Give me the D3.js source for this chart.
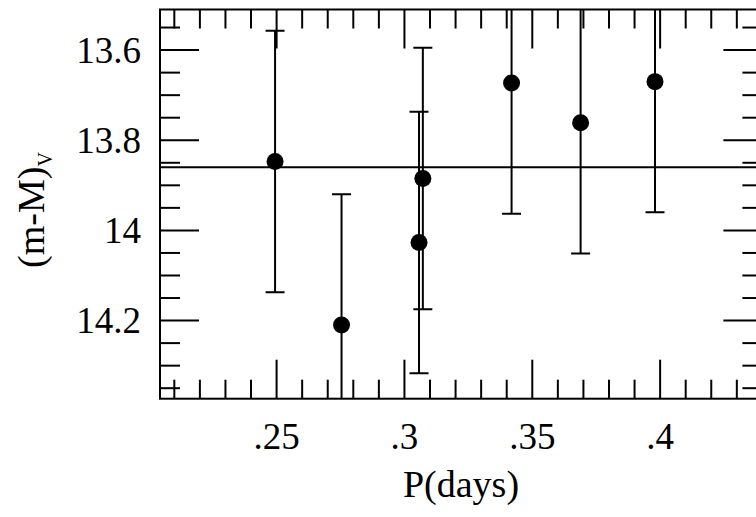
<!DOCTYPE html>
<html>
<head>
<meta charset="utf-8">
<script src="https://cdn.jsdelivr.net/npm/d3@7"></script>
<style>
  html, body { margin: 0; padding: 0; background: #fff; }
  svg { display: block; }
  text { font-family: "Liberation Serif", "Times New Roman", serif; fill: #000; }
</style>
</head>
<body>
<svg id="chart" width="756" height="517"></svg>
<script>
// ---- data ----
const periods = [0.2494, 0.2754, 0.3057, 0.3072, 0.3419, 0.3689, 0.3980];
const distMod = [13.847, 14.210, 14.027, 13.885, 13.673, 13.761, 13.670];
const errors  = [0.29, 0.29, 0.29, 0.29, 0.29, 0.29, 0.29];
const meanDistMod = 13.86;
const xMajorTicks = [0.25, 0.30, 0.35, 0.40];
const xMajorLabels = [".25", ".3", ".35", ".4"];
const xMinorTicks = [0.21,0.22,0.23,0.24,0.26,0.27,0.28,0.29,0.31,0.32,0.33,0.34,0.36,0.37,0.38,0.39,0.41,0.42,0.43];
const yMajorTicks = [13.6, 13.8, 14.0, 14.2];
const yMajorLabels = ["13.6", "13.8", "14", "14.2"];
const yMinorTicks = [13.55,13.65,13.7,13.75,13.85,13.9,13.95,14.05,14.1,14.15,14.25,14.3,14.35];

(function () {
// ---- layout ----
const pl = 160, pr = 762.4, pt = 9.5, pb = 398.7;
const x = d3.scaleLinear().domain([0.2044, 0.44]).range([pl, pr]);
const y = d3.scaleLinear().domain([13.51, 14.3733]).range([pt, pb]);

const svg = d3.select("#chart");
const sw = 2;

svg.append("defs").append("clipPath").attr("id", "plotclip")
  .append("rect").attr("x", pl).attr("y", pt)
  .attr("width", pr - pl).attr("height", pb - pt);

const g = svg.append("g").attr("stroke", "#000").attr("stroke-width", sw).attr("fill", "none");

// frame
g.append("rect").attr("x", pl).attr("y", pt)
  .attr("width", pr - pl).attr("height", pb - pt);

// x ticks (top and bottom)
function xTick(v, len) {
  g.append("line").attr("x1", x(v)).attr("x2", x(v)).attr("y1", pt).attr("y2", pt + len);
  g.append("line").attr("x1", x(v)).attr("x2", x(v)).attr("y1", pb).attr("y2", pb - len);
}
xMinorTicks.forEach(v => xTick(v, 19));
xMajorTicks.forEach(v => xTick(v, 39));

// y ticks (left and right)
function yTick(v, len) {
  g.append("line").attr("y1", y(v)).attr("y2", y(v)).attr("x1", pl).attr("x2", pl + len);
  g.append("line").attr("y1", y(v)).attr("y2", y(v)).attr("x1", pr).attr("x2", pr - len);
}
yMinorTicks.forEach(v => yTick(v, 20));
yMajorTicks.forEach(v => yTick(v, 39));

// data layer
const p = svg.append("g").attr("clip-path", "url(#plotclip)");

// mean line
p.append("line").attr("x1", pl).attr("x2", pr)
  .attr("y1", y(meanDistMod)).attr("y2", y(meanDistMod))
  .attr("stroke", "#000").attr("stroke-width", sw);

const pts = periods.map((d, i) => ({ p: d, m: distMod[i], e: errors[i] }));
const capW = 9.5;
const eb = p.append("g").attr("stroke", "#000").attr("stroke-width", sw);
pts.forEach(d => {
  eb.append("line").attr("x1", x(d.p)).attr("x2", x(d.p))
    .attr("y1", y(d.m - d.e)).attr("y2", y(d.m + d.e));
  eb.append("line").attr("x1", x(d.p) - capW).attr("x2", x(d.p) + capW)
    .attr("y1", y(d.m - d.e)).attr("y2", y(d.m - d.e));
  eb.append("line").attr("x1", x(d.p) - capW).attr("x2", x(d.p) + capW)
    .attr("y1", y(d.m + d.e)).attr("y2", y(d.m + d.e));
});
p.append("g").selectAll("circle").data(pts).join("circle")
  .attr("cx", d => x(d.p)).attr("cy", d => y(d.m)).attr("r", 8.5).attr("fill", "#000");

// tick labels
const fs = 37;
svg.append("g").selectAll("text").data(xMajorTicks).join("text")
  .attr("x", d => x(d)).attr("y", 449)
  .attr("text-anchor", "middle").attr("font-size", fs)
  .text((d, i) => xMajorLabels[i]);
svg.append("g").selectAll("text").data(yMajorTicks).join("text")
  .attr("x", 141).attr("y", d => y(d) + 12.5)
  .attr("text-anchor", "end").attr("font-size", fs)
  .text((d, i) => yMajorLabels[i]);

// axis titles
svg.append("text").attr("x", 461).attr("y", 497)
  .attr("text-anchor", "middle").attr("font-size", 38).text("P(days)");

const yl = svg.append("text")
  .attr("transform", "translate(44,210) rotate(-90)")
  .attr("text-anchor", "middle").attr("font-size", 38);
yl.append("tspan").text("(m-M)");
yl.append("tspan").attr("font-size", 20).attr("dy", 8).text("V");
})();
</script>
</body>
</html>
